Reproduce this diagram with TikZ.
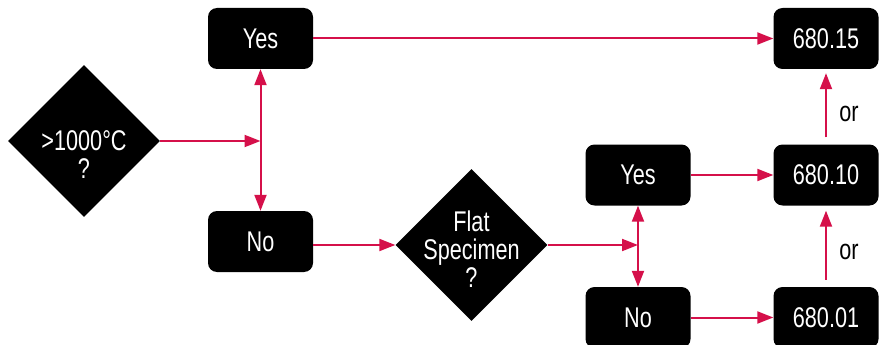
\documentclass[tikz,border=0pt]{standalone}
\usepackage{fontspec}
\setmainfont{Liberation Sans}[FakeStretch=0.76]
\usetikzlibrary{arrows.meta,shapes.geometric}
\definecolor{crim}{RGB}{213,16,74}
\begin{document}
\begin{tikzpicture}[x=1pt,y=-1pt,
  box/.style={fill=black,text=white,rounded corners=9pt,minimum width=105pt,minimum height=61pt,inner sep=0pt,font=\fontsize{28.5}{30}\selectfont},
  dia/.style={diamond,fill=black,minimum width=152pt,minimum height=152pt,inner sep=0pt},
  dtext/.style={text=white,align=center,font=\fontsize{28.5}{28}\selectfont},
  conn/.style={draw=crim,line width=2pt,-{Triangle[length=16pt,width=12pt]}},
  conn2/.style={draw=crim,line width=2pt,{Triangle[length=16pt,width=12pt]}-{Triangle[length=16pt,width=12pt]}},
  ortext/.style={text=black,font=\fontsize{28.5}{30}\selectfont}]
\useasboundingbox (0,0) rectangle (879,345);
\node[dia] (d1) at (84,141) {};
\node[dtext] (d1t) at (84,155) {>1000°C\\?};
\node[box] (y1) at (260.5,38.5) {Yes};
\node[box] (n1) at (260.5,241.5) {No};
\node[dia] (d2) at (471.5,245) {};
\node[dtext] (d2t) at (471.5,249) {Flat\\Specimen\\?};
\node[box] (y2) at (638,175) {Yes};
\node[box] (n2) at (638,317.5) {No};
\node[box] (r15) at (826,38.5) {680.15};
\node[box] (r10) at (826,175) {680.10};
\node[box] (r01) at (826,317.5) {680.01};
\coordinate (j1) at (260.5,141);
\coordinate (j2) at (638,245);
\draw[conn] (d1.east) -- (j1);
\draw[conn2] (y1.south) -- (n1.north);
\draw[conn] (y1.east) -- (r15.west);
\draw[conn] (n1.east |- d2.west) -- (d2.west);
\draw[conn] (d2.east) -- (j2);
\draw[conn2] (y2.south) -- (n2.north);
\draw[conn] (y2.east) -- (r10.west);
\draw[conn] (n2.east) -- (r01.west);
\draw[conn] ([yshift=7pt]r01.north) -- ([yshift=-5pt]r10.south) node[pos=0.4,right=9pt,ortext] (or2) {or};
\draw[conn] ([yshift=7pt]r10.north) -- ([yshift=-4pt]r15.south) node[pos=0.36,right=9pt,ortext] (or1) {or};
\end{tikzpicture}
\end{document}
